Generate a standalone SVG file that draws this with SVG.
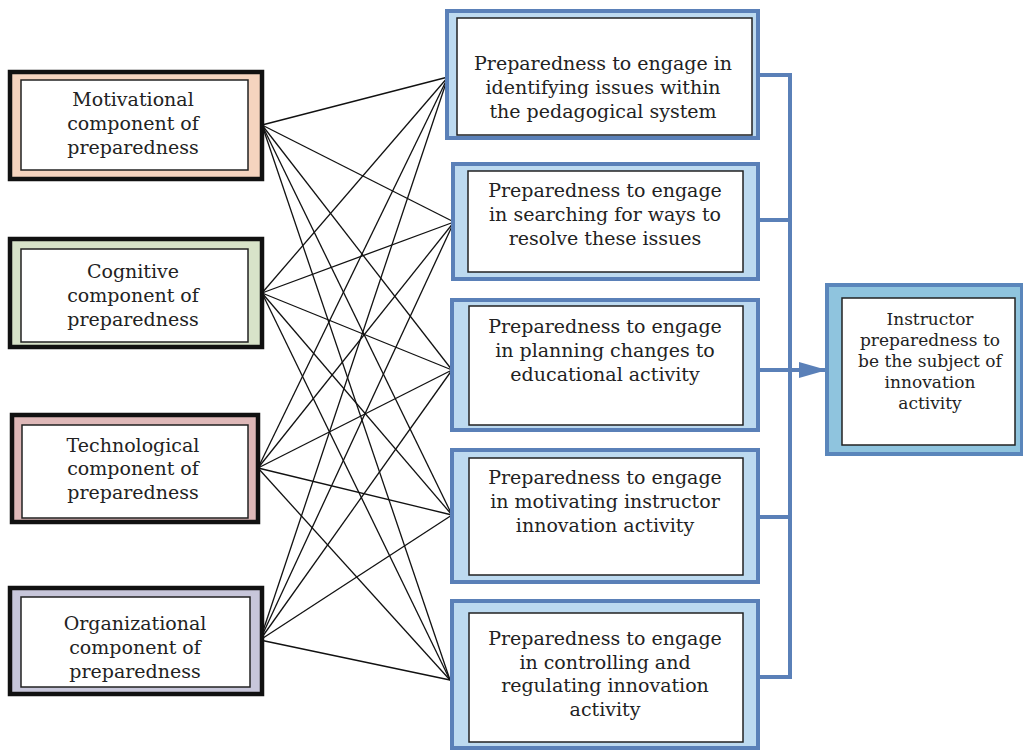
<svg xmlns="http://www.w3.org/2000/svg" width="1023" height="751" viewBox="0 0 1023 751">
<style>
.t{font-family:"DejaVu Serif","Liberation Serif",serif;font-size:19px;fill:#222;text-anchor:middle}
.tr{font-family:"DejaVu Serif","Liberation Serif",serif;font-size:17px;fill:#222;text-anchor:middle}
.lo{stroke:#111;stroke-width:4.5}
.in{fill:#fff;stroke:#222;stroke-width:1.5}
.mo{fill:#bddaf0;stroke:#5a80b8;stroke-width:4}
.cn{stroke:#111;stroke-width:1.3;fill:none}
.bl{stroke:#5a80b8;stroke-width:4;fill:none}
</style>
<defs>
<marker id="ah" markerWidth="28" markerHeight="16" refX="27" refY="8" orient="auto" markerUnits="userSpaceOnUse" viewBox="0 0 28 16">
<path d="M0,0 L28,8 L0,16 Z" fill="#5a80b8"/>
</marker>
</defs>
<rect width="1023" height="751" fill="#fff"/>
<g id="connectors">
<g class="cn">
<line x1="262" y1="125" x2="448" y2="77"/>
<line x1="262" y1="125" x2="454" y2="222"/>
<line x1="262" y1="125" x2="452" y2="370"/>
<line x1="262" y1="125" x2="452" y2="515"/>
<line x1="262" y1="125" x2="450" y2="680"/>
<line x1="262" y1="293" x2="448" y2="77"/>
<line x1="262" y1="293" x2="454" y2="222"/>
<line x1="262" y1="293" x2="452" y2="370"/>
<line x1="262" y1="293" x2="452" y2="515"/>
<line x1="262" y1="293" x2="450" y2="680"/>
<line x1="258" y1="468" x2="448" y2="77"/>
<line x1="258" y1="468" x2="454" y2="222"/>
<line x1="258" y1="468" x2="452" y2="370"/>
<line x1="258" y1="468" x2="452" y2="515"/>
<line x1="258" y1="468" x2="450" y2="680"/>
<line x1="260" y1="640" x2="448" y2="77"/>
<line x1="260" y1="640" x2="454" y2="222"/>
<line x1="260" y1="640" x2="452" y2="370"/>
<line x1="260" y1="640" x2="452" y2="515"/>
<line x1="260" y1="640" x2="450" y2="680"/>
</g>
<g class="bl">
<line x1="758" y1="75" x2="792" y2="75"/>
<line x1="758" y1="220" x2="790" y2="220"/>
<line x1="758" y1="370" x2="790" y2="370"/>
<line x1="758" y1="517" x2="790" y2="517"/>
<line x1="758" y1="677" x2="792" y2="677"/>
<line x1="790" y1="73" x2="790" y2="679"/>
<line x1="790" y1="370" x2="826" y2="370" marker-end="url(#ah)"/>
</g>
</g>
<g id="motivational">
<rect x="10" y="72" width="252" height="107" fill="#f5d4bf" class="lo"/>
<rect x="21" y="80" width="227" height="90" class="in"/>
<text class="t" x="133" y="106">Motivational</text>
<text class="t" x="133" y="130">component of</text>
<text class="t" x="133" y="154">preparedness</text>
</g>
<g id="cognitive">
<rect x="10" y="239" width="252" height="108" fill="#d8e3c9" class="lo"/>
<rect x="21" y="249" width="227" height="93" class="in"/>
<text class="t" x="133" y="278">Cognitive</text>
<text class="t" x="133" y="302">component of</text>
<text class="t" x="133" y="326">preparedness</text>
</g>
<g id="technological">
<rect x="12" y="415" width="246" height="107" fill="#deb8b8" class="lo"/>
<rect x="22" y="425" width="226" height="93" class="in"/>
<text class="t" x="133" y="452">Technological</text>
<text class="t" x="133" y="475">component of</text>
<text class="t" x="133" y="499">preparedness</text>
</g>
<g id="organizational">
<rect x="10" y="588" width="252" height="106" fill="#c7c6da" class="lo"/>
<rect x="21" y="597" width="229" height="90" class="in"/>
<text class="t" x="135" y="630">Organizational</text>
<text class="t" x="135" y="654">component of</text>
<text class="t" x="135" y="678">preparedness</text>
</g>
<g id="identifying">
<rect x="447" y="11" width="311" height="127" class="mo"/>
<rect x="457" y="18" width="295" height="117" class="in"/>
<text class="t" x="603" y="70">Preparedness to engage in</text>
<text class="t" x="603" y="94">identifying issues within</text>
<text class="t" x="603" y="118">the pedagogical system</text>
</g>
<g id="searching">
<rect x="453" y="164" width="305" height="115" class="mo"/>
<rect x="468" y="171" width="275" height="101" class="in"/>
<text class="t" x="605" y="197">Preparedness to engage</text>
<text class="t" x="605" y="221">in searching for ways to</text>
<text class="t" x="605" y="245">resolve these issues</text>
</g>
<g id="planning">
<rect x="452" y="300" width="306" height="130" class="mo"/>
<rect x="469" y="306" width="274" height="119" class="in"/>
<text class="t" x="605" y="333">Preparedness to engage</text>
<text class="t" x="605" y="357">in planning changes to</text>
<text class="t" x="605" y="381">educational activity</text>
</g>
<g id="motivating">
<rect x="452" y="450" width="306" height="132" class="mo"/>
<rect x="469" y="458" width="274" height="117" class="in"/>
<text class="t" x="605" y="484">Preparedness to engage</text>
<text class="t" x="605" y="508">in motivating instructor</text>
<text class="t" x="605" y="532">innovation activity</text>
</g>
<g id="controlling">
<rect x="452" y="601" width="306" height="147" class="mo"/>
<rect x="469" y="613" width="274" height="129" class="in"/>
<text class="t" x="605" y="645">Preparedness to engage</text>
<text class="t" x="605" y="669">in controlling and</text>
<text class="t" x="605" y="692">regulating innovation</text>
<text class="t" x="605" y="716">activity</text>
</g>
<g id="instructor">
<rect x="827" y="285" width="195" height="169" fill="#8fc4de" stroke="#5a86bb" stroke-width="4"/>
<rect x="842" y="298" width="173" height="147" class="in"/>
<text class="tr" x="930" y="325">Instructor</text>
<text class="tr" x="930" y="346">preparedness to</text>
<text class="tr" x="930" y="367">be the subject of</text>
<text class="tr" x="930" y="388">innovation</text>
<text class="tr" x="930" y="409">activity</text>
</g>
</svg>
